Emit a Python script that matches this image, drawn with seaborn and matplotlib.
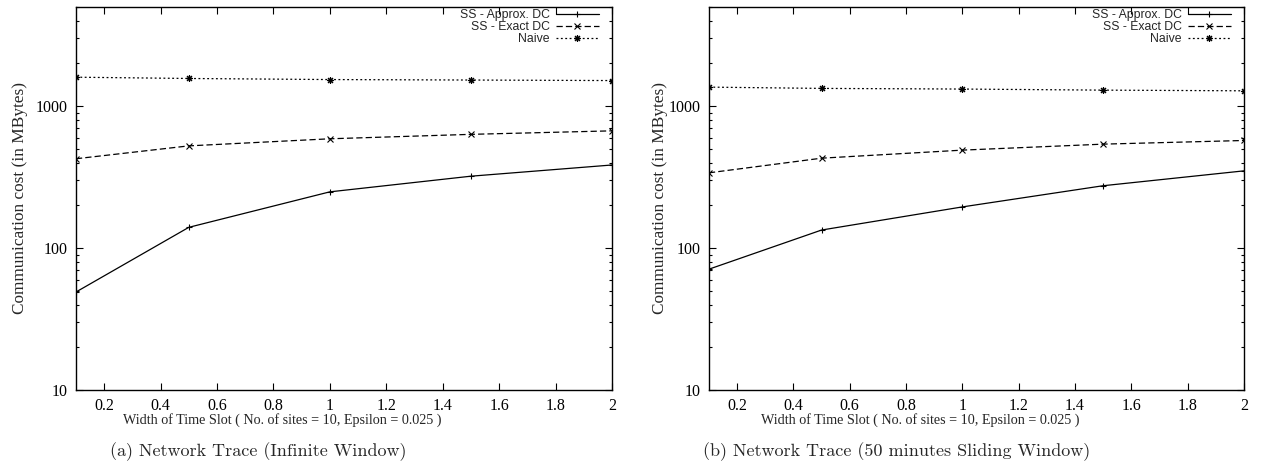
import numpy as np
import pandas as pd
import matplotlib
matplotlib.use("Agg")
import matplotlib.pyplot as plt
import seaborn as sns

# Width of time slot (x axis)
slot_width = [0.1, 0.5, 1.0, 1.5, 2.0]

# Communication cost (MBytes), infinite window
inf_approx = [49, 140, 249, 321, 385]
inf_exact = [426, 525, 589, 633, 670]
inf_naive = [1600, 1567, 1540, 1528, 1515]

# Communication cost (MBytes), 50 minutes sliding window
sld_approx = [71, 134, 195, 275, 350]
sld_exact = [339, 430, 490, 540, 573]
sld_naive = [1362, 1334, 1320, 1297, 1283]

series_names = ["SS - Approx. DC", "SS - Exact DC", "Naive"]
x_ticks = [0.2, 0.4, 0.6, 0.8, 1.0, 1.2, 1.4, 1.6, 1.8, 2.0]
x_tick_labels = ["0.2", "0.4", "0.6", "0.8", "1", "1.2", "1.4", "1.6", "1.8", "2"]
y_ticks = [10, 100, 1000]
y_tick_labels = ["10", "100", "1000"]
y_label = "Communication cost (in MBytes)"
x_label = "Width of Time Slot ( No. of sites = 10, Epsilon = 0.025 )"
captions = ["(a) Network Trace (Infinite Window)",
            "(b) Network Trace (50 minutes Sliding Window)"]

sns.set_theme(style="ticks")
plt.rcParams["font.family"] = ["Liberation Serif", "DejaVu Serif"]

styles = [
    dict(linestyle="-", marker="+", markersize=5),
    dict(linestyle=(0, (5, 2.5)), marker="x", markersize=4),
    dict(linestyle=(0, (1.5, 2)), marker=(8, 2, 0), markersize=5),
]

fig = plt.figure(figsize=(12.68, 4.68), dpi=100)
ax_a = fig.add_axes([0.0599, 0.1667, 0.4227, 0.8184])
ax_b = fig.add_axes([0.5591, 0.1667, 0.4219, 0.8184])

panels = [
    (ax_a, [inf_approx, inf_exact, inf_naive]),
    (ax_b, [sld_approx, sld_exact, sld_naive]),
]

for ax, data in panels:
    for name, vals, st in zip(series_names, data, styles):
        df = pd.DataFrame({"x": slot_width, "y": vals})
        sns.lineplot(data=df, x="x", y="y", ax=ax, color="black",
                     linewidth=0.9, markeredgewidth=0.8, label=name,
                     markeredgecolor="black", **st)
    ax.set_yscale("log")
    ax.set_xlim(0.1, 2.0)
    ax.set_ylim(10, 5000)
    ax.set_xticks(x_ticks, labels=x_tick_labels)
    ax.set_yticks(y_ticks, labels=y_tick_labels)
    ax.yaxis.set_minor_locator(matplotlib.ticker.LogLocator(base=10, subs=np.arange(2, 10)))
    ax.yaxis.set_minor_formatter(matplotlib.ticker.NullFormatter())
    ax.tick_params(which="both", direction="in", top=True, right=True,
                   labelsize=11.5, colors="black", width=0.8)
    ax.tick_params(which="major", length=5, pad=6)
    ax.tick_params(which="minor", length=2.5)
    ax.set_xlabel("")
    ax.set_ylabel("")
    for sp in ax.spines.values():
        sp.set_linewidth(1.0)
        sp.set_color("black")
    ax.legend(loc="upper right", frameon=False, markerfirst=False,
              handlelength=3.5, handletextpad=0.5, labelspacing=0.0,
              borderaxespad=0.0, borderpad=0.3, bbox_to_anchor=(0.982, 1.004),
              prop={"family": "Liberation Sans", "size": 8.8})

# axis labels and captions
fig.text(0.0155, 0.576, y_label, rotation=90, ha="center", va="center", fontsize=12.4)
fig.text(0.5205, 0.576, y_label, rotation=90, ha="center", va="center", fontsize=12.4)
fig.text(0.2224, 0.1015, x_label, ha="center", va="center", fontsize=10.2)
fig.text(0.7256, 0.1015, x_label, ha="center", va="center", fontsize=10.2)
fig.text(0.2035, 0.034, captions[0], ha="center", va="center", fontsize=13,
         family=["cmr10", "DejaVu Serif"])
fig.text(0.7074, 0.034, captions[1], ha="center", va="center", fontsize=13,
         family=["cmr10", "DejaVu Serif"])

fig.savefig("out.png", dpi=100)
